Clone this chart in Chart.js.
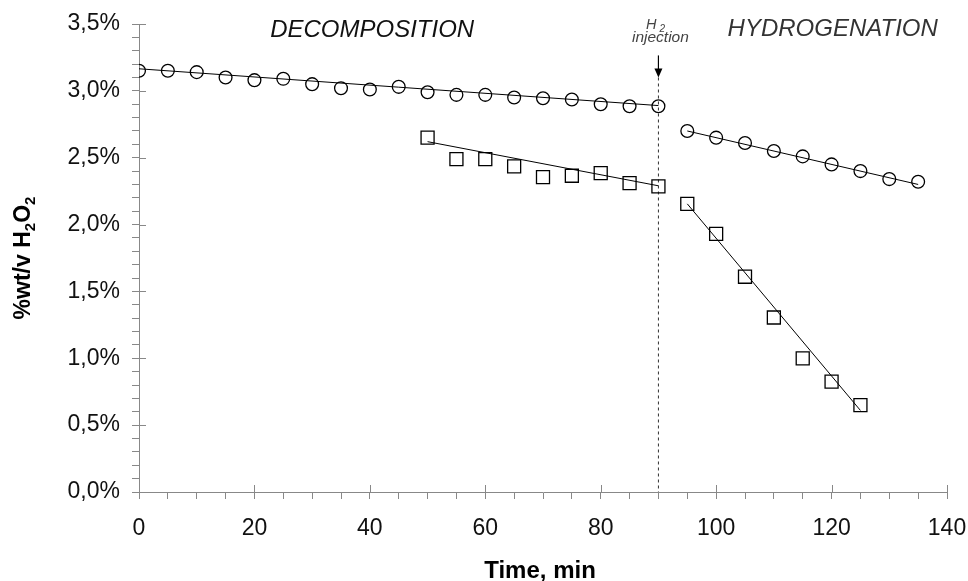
<!DOCTYPE html>
<html>
<head>
<meta charset="utf-8">
<script src="https://cdn.jsdelivr.net/npm/chart.js@4.4.1/dist/chart.umd.min.js"></script>
<style>
  body { margin: 0; background: #fff; }
  #h2o2Chart { display: block; }
</style>
</head>
<body>
<canvas id="h2o2Chart" width="968" height="581"></canvas>
<script>
// time axis (min)
var decompTime = [0, 5, 10, 15, 20, 25, 30, 35, 40, 45, 50, 55, 60, 65, 70, 75, 80, 85, 90];
var hydroTime = [95, 100, 105, 110, 115, 120, 125, 130, 135];
var sqDecompTime = [50, 55, 60, 65, 70, 75, 80, 85, 90];
var sqHydroTime = [95, 100, 105, 110, 115, 120, 125];

// %wt/v H2O2 - circles
var circDecomp = [3.15, 3.15, 3.14, 3.10, 3.08, 3.09, 3.05, 3.02, 3.01, 3.03, 2.99, 2.97, 2.97, 2.95, 2.945, 2.935, 2.90, 2.885, 2.885];
var circHydro = [2.70, 2.65, 2.61, 2.55, 2.51, 2.45, 2.40, 2.34, 2.32];
// squares
var sqDecomp = [2.65, 2.49, 2.49, 2.435, 2.355, 2.365, 2.385, 2.31, 2.285];
var sqHydro = [2.155, 1.93, 1.61, 1.305, 1.00, 0.825, 0.65];

// trend lines (end points)
var trendCircDecompX = [0, 90], trendCircDecompY = [3.165, 2.89];
var trendCircHydroX = [95, 135], trendCircHydroY = [2.70, 2.30];
var trendSqDecompX = [50, 90], trendSqDecompY = [2.62, 2.29];
var trendSqHydroX = [95, 125], trendSqHydroY = [2.155, 0.61];

// H2 injection marker
var injectionX = [90, 90], injectionY = [3.10, 0];

// tick labels
var xTickLabels = [0, 20, 40, 60, 80, 100, 120, 140];
var yTickLabels = ["0,0%", "0,5%", "1,0%", "1,5%", "2,0%", "2,5%", "3,0%", "3,5%"];

function pts(xs, ys) {
  var out = [];
  for (var i = 0; i < xs.length; i++) out.push({x: xs[i], y: ys[i]});
  return out;
}

var FONT = "'Liberation Sans', Arial, sans-serif";
Chart.defaults.font.family = FONT;

function markerSet(data, style, r) {
  return {
    data: data, showLine: false, pointStyle: style, pointRadius: r,
    pointBorderColor: "#000", pointBackgroundColor: "rgba(0,0,0,0)", pointBorderWidth: 1.3
  };
}
function lineSet(data, dash, color) {
  return {
    data: data, showLine: true, pointRadius: 0, borderColor: color || "#000",
    borderWidth: 1, borderDash: dash || [], fill: false
  };
}

function isMajorX(v) { return Math.abs(v % 20) < 1e-6; }
function isMajorY(v) { return Math.abs(v * 2 - Math.round(v * 2)) < 1e-6; }

// text with subscript pieces: [[text, sub?], ...]
function drawPieces(ctx, pieces, size, subSize, style, cx, baseY, gap) {
  var total = 0;
  gap = gap || 0;
  pieces.forEach(function(p) {
    ctx.font = style + " " + (p[1] ? subSize : size) + "px " + FONT;
    total += ctx.measureText(p[0]).width + (p[1] ? gap : 0);
  });
  var x = cx - total / 2;
  pieces.forEach(function(p) {
    ctx.font = style + " " + (p[1] ? subSize : size) + "px " + FONT;
    if (p[1]) x += gap;
    ctx.fillText(p[0], x, baseY + (p[1] ? size * 0.22 : 0));
    x += ctx.measureText(p[0]).width;
  });
}

var extrasPlugin = {
  id: "extras",
  afterDraw: function(chart) {
    var ctx = chart.ctx, xs = chart.scales.x, ys = chart.scales.y, area = chart.chartArea;
    ctx.save();
    // major ticks crossing into the plot
    ctx.strokeStyle = "#888";
    ctx.lineWidth = 1;
    ctx.beginPath();
    xs.ticks.forEach(function(t) {
      if (!isMajorX(t.value)) return;
      var px = Math.round(xs.getPixelForValue(t.value)) + 0.5;
      ctx.moveTo(px, area.bottom); ctx.lineTo(px, area.bottom - 7);
    });
    ys.ticks.forEach(function(t) {
      if (!isMajorY(t.value)) return;
      var py = Math.round(ys.getPixelForValue(t.value)) + 0.5;
      ctx.moveTo(area.left, py); ctx.lineTo(area.left + 7, py);
    });
    ctx.stroke();

    // arrow for H2 injection
    var ax = xs.getPixelForValue(90);
    var aTop = ys.getPixelForValue(3.265), aTip = ys.getPixelForValue(3.10);
    ctx.strokeStyle = "#000";
    ctx.fillStyle = "#000";
    ctx.lineWidth = 1.2;
    ctx.beginPath();
    ctx.moveTo(ax, aTop); ctx.lineTo(ax, aTip - 6);
    ctx.stroke();
    ctx.beginPath();
    ctx.moveTo(ax - 4, aTip - 9); ctx.lineTo(ax + 4, aTip - 9); ctx.lineTo(ax, aTip);
    ctx.closePath();
    ctx.fill();

    // annotations
    ctx.textAlign = "left";
    ctx.textBaseline = "alphabetic";
    ctx.fillStyle = "#444";
    drawPieces(ctx, [["H", false], ["2", true]], 14.5, 10, "italic", ax - 3, 28.5, 3);
    drawPieces(ctx, [["injection", false]], 15.5, 15.5, "italic", ax + 2, 41.5);

    ctx.fillStyle = "#111";
    drawPieces(ctx, [["DECOMPOSITION", false]], 24, 24, "italic", xs.getPixelForValue(40.4), 36.7);
    ctx.fillStyle = "#333";
    drawPieces(ctx, [["HYDROGENATION", false]], 24, 24, "italic", xs.getPixelForValue(120.2), 36.3);

    // axis titles
    ctx.fillStyle = "#000";
    drawPieces(ctx, [["Time, min", false]], 24, 24, "bold", (area.left + area.right) / 2 - 3, 578);
    ctx.translate(30, (area.top + area.bottom) / 2);
    ctx.rotate(-Math.PI / 2);
    drawPieces(ctx, [["%wt/v H", false], ["2", true], ["O", false], ["2", true]], 23, 15, "bold", 0, 0);
    ctx.restore();
  }
};

new Chart(document.getElementById("h2o2Chart"), {
  type: "scatter",
  data: {
    datasets: [
      markerSet(pts(decompTime, circDecomp), "circle", 6.4),
      markerSet(pts(hydroTime, circHydro), "circle", 6.4),
      markerSet(pts(sqDecompTime, sqDecomp), "rect", 9.2),
      markerSet(pts(sqHydroTime, sqHydro), "rect", 9.2),
      lineSet(pts(trendCircDecompX, trendCircDecompY)),
      lineSet(pts(trendCircHydroX, trendCircHydroY)),
      lineSet(pts(trendSqDecompX, trendSqDecompY)),
      lineSet(pts(trendSqHydroX, trendSqHydroY)),
      lineSet(pts(injectionX, injectionY), [3, 3], "#333")
    ]
  },
  options: {
    responsive: false,
    animation: false,
    events: [],
    layout: { padding: { top: 24, right: 21, left: 0, bottom: 0 } },
    plugins: { legend: { display: false }, tooltip: { enabled: false } },
    scales: {
      x: {
        type: "linear", min: 0, max: 140,
        afterFit: function(s) { s.height = 89; s.paddingLeft = 0; s.paddingRight = 0; },
        border: { color: "#888", width: 1 },
        grid: { drawOnChartArea: false, tickLength: 7, color: "#888" },
        ticks: {
          stepSize: 5, autoSkip: false, maxRotation: 0, padding: 16,
          color: "#111", font: { size: 23 },
          callback: function(v) { return xTickLabels.indexOf(v) >= 0 ? String(v) : ""; }
        }
      },
      y: {
        min: 0, max: 3.5,
        afterFit: function(s) { s.width = 139; s.paddingTop = 0; s.paddingBottom = 0; },
        border: { color: "#888", width: 1 },
        grid: { drawOnChartArea: false, tickLength: 7, color: "#888" },
        ticks: {
          stepSize: 0.1, autoSkip: false, padding: 12,
          color: "#111", font: { size: 23 },
          callback: function(v) { return isMajorY(v) ? yTickLabels[Math.round(v * 2)] : ""; }
        }
      }
    }
  },
  plugins: [extrasPlugin]
});
</script>
</body>
</html>
